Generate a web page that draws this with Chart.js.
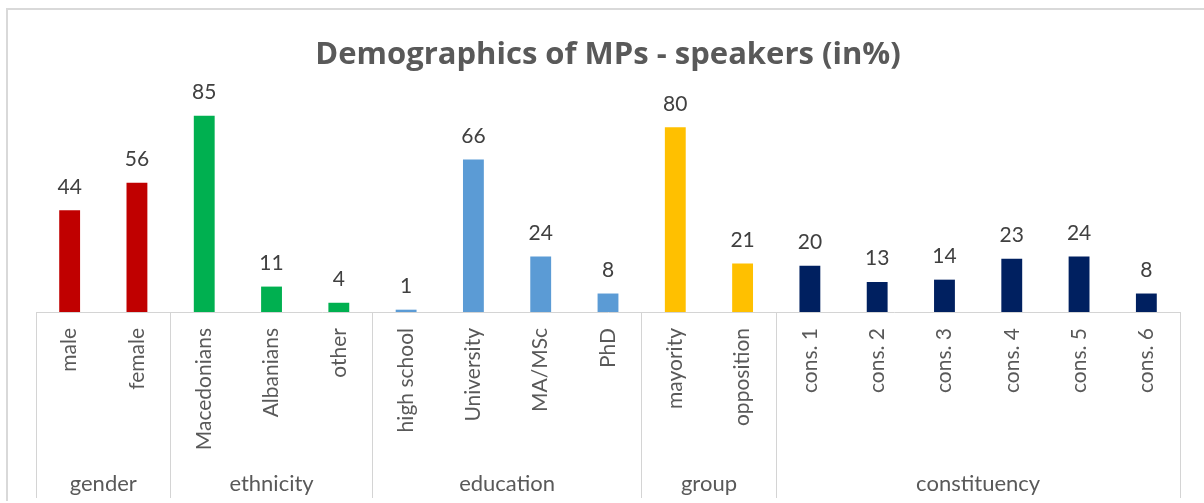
<!DOCTYPE html>
<html>
<head>
<meta charset="utf-8">
<script src="https://cdn.jsdelivr.net/npm/chart.js@4.4.1/dist/chart.umd.min.js"></script>
<style>
  html, body { margin: 0; padding: 0; background: #ffffff; overflow: hidden; }
  #frame {
    position: absolute; left: 6px; top: 8px; width: 1400px; height: 491px;
    border-top: 2px solid #d9d9d9; border-left: 2px solid #d9d9d9;
  }
  #wrap { position: absolute; left: 0; top: 0; width: 1204px; height: 503px; }
</style>
</head>
<body>
<div id="frame"></div>
<div id="wrap"><canvas id="chart" width="1204" height="503"></canvas></div>
<script>
// Share of MPs who spoke, by demographic category (percent)
const categories = [
  'male', 'female',
  'Macedonians', 'Albanians', 'other',
  'high school', 'University', 'MA/MSc', 'PhD',
  'mayority', 'opposition',
  'cons. 1', 'cons. 2', 'cons. 3', 'cons. 4', 'cons. 5', 'cons. 6'
];
const shares = [44, 56, 85, 11, 4, 1, 66, 24, 8, 80, 21, 20, 13, 14, 23, 24, 8];
const groupNames = ['gender', 'ethnicity', 'education', 'group', 'constituency'];
const groupSizes = [2, 3, 4, 2, 6];

// One fill colour per group
const groupColours = ['#C00000', '#00B050', '#5B9BD5', '#FFC000', '#002060'];

const groupStarts = [];
let running = 0;
groupSizes.forEach(n => { groupStarts.push(running); running += n; });
const groupOf = categories.map((_, i) => groupStarts.filter(s => s <= i).length - 1);
const barColours = groupOf.map(g => groupColours[g]);

const FONT = 'Lato, "Open Sans", sans-serif';
const TITLE_FONT = '"Open Sans", Lato, sans-serif';
const AXIS_GREY = '#d4d4d4';
const TEXT_GREY = '#595959';
const LABEL_AREA = 186;

// Numbers above each bar
const valueLabels = {
  id: 'valueLabels',
  afterDatasetsDraw(chart) {
    const { ctx } = chart;
    const meta = chart.getDatasetMeta(0);
    const values = chart.data.datasets[0].data;
    ctx.save();
    ctx.font = '21px ' + FONT;
    ctx.fillStyle = '#404040';
    ctx.textAlign = 'center';
    ctx.textBaseline = 'alphabetic';
    meta.data.forEach((bar, i) => {
      ctx.fillText(String(values[i]), bar.x, bar.y - 16.5);
    });
    ctx.restore();
  }
};

// Group names centred under their categories
const groupLabels = {
  id: 'groupLabels',
  afterDraw(chart) {
    const { ctx } = chart;
    const x = chart.scales.x;
    ctx.save();
    ctx.font = '22px ' + FONT;
    ctx.fillStyle = TEXT_GREY;
    ctx.textAlign = 'center';
    ctx.textBaseline = 'alphabetic';
    groupNames.forEach((name, g) => {
      const first = groupStarts[g];
      const last = first + groupSizes[g] - 1;
      const left = x.getPixelForValue(first - 0.5);
      const right = x.getPixelForValue(last + 0.5);
      ctx.fillText(name, (left + right) / 2, x.bottom - 7);
    });
    ctx.restore();
  }
};

new Chart(document.getElementById('chart'), {
  type: 'bar',
  data: {
    labels: categories,
    datasets: [{
      data: shares,
      backgroundColor: barColours,
      borderWidth: 0,
      categoryPercentage: 1,
      barPercentage: 0.31
    }]
  },
  options: {
    responsive: false,
    animation: false,
    layout: { padding: { left: 36, right: 24, top: 0, bottom: 5 } },
    plugins: {
      legend: { display: false },
      tooltip: { enabled: false },
      title: {
        display: true,
        text: 'Demographics of MPs - speakers (in%)',
        color: TEXT_GREY,
        font: { family: TITLE_FONT, size: 31, weight: 'bold', lineHeight: 1.2 },
        padding: { top: 36.4, bottom: 7.4 }
      }
    },
    scales: {
      x: {
        offset: true,
        grid: {
          offset: true,
          drawOnChartArea: false,
          drawTicks: true,
          tickLength: LABEL_AREA,
          lineWidth: 1,
          color: ctx => (ctx.type === 'scale' || groupStarts.includes(ctx.index)) ? AXIS_GREY : 'rgba(0,0,0,0)'
        },
        border: { display: true, color: AXIS_GREY, width: 1 },
        ticks: {
          autoSkip: false,
          minRotation: 90,
          maxRotation: 90,
          padding: 16 - LABEL_AREA,
          color: TEXT_GREY,
          font: { family: FONT, size: 21 }
        },
        afterFit(scale) { scale.height = LABEL_AREA; }
      },
      y: {
        display: false,
        min: 0,
        max: 100
      }
    }
  },
  plugins: [valueLabels, groupLabels]
});
</script>
</body>
</html>
